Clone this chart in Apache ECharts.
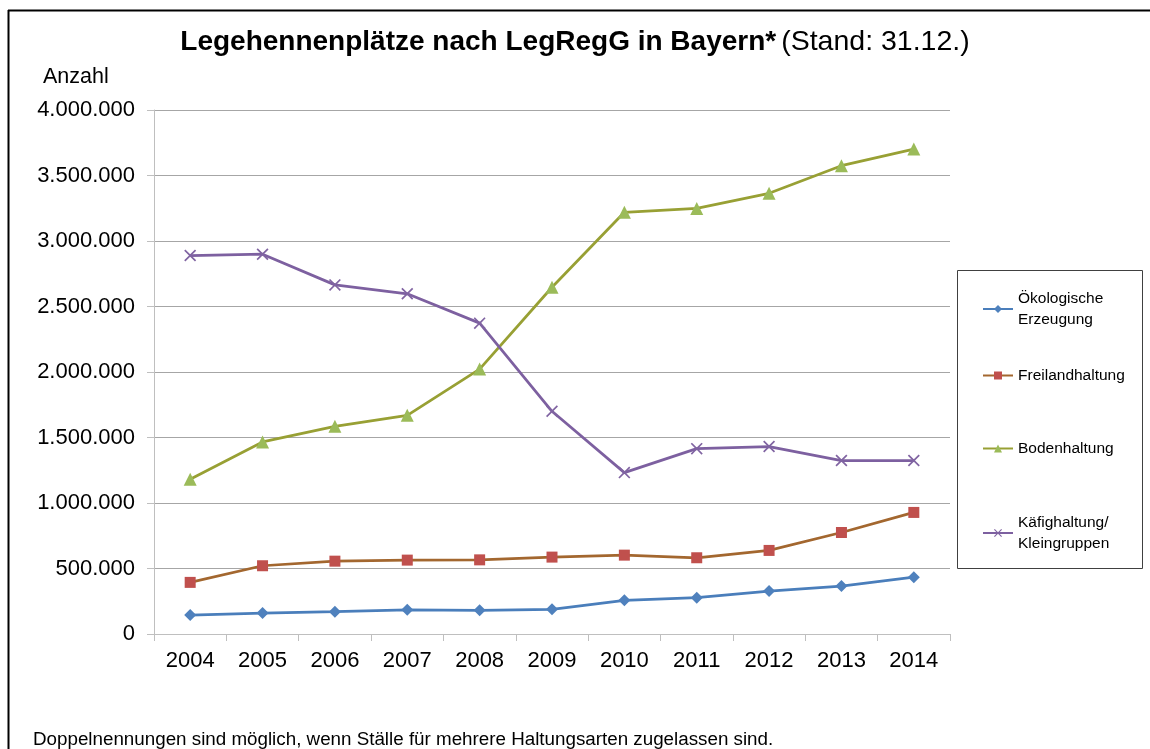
<!DOCTYPE html>
<html><head><meta charset="utf-8">
<script src="https://cdn.jsdelivr.net/npm/echarts@6/dist/echarts.min.js"></script>
<style>html,body{margin:0;padding:0;background:#fff}#c{width:1150px;height:749px}</style>
</head><body><div id="c"></div>
<script>
const years = ['2004','2005','2006','2007','2008','2009','2010','2011','2012','2013','2014'];
const oeko = [145000,160000,170000,185000,181000,188000,257000,277000,328000,366000,434000];
const frei = [394000,521000,556000,564000,566000,587000,602000,582000,638000,775000,928000];
const boden = [1181000,1466000,1585000,1669000,2022000,2647000,3219000,3249000,3364000,3575000,3702000];
const kaefig = [2889000,2899000,2665000,2597000,2373000,1700000,1232000,1415000,1431000,1324000,1324000];
const names = ['Ökologische\nErzeugung','Freilandhaltung','Bodenhaltung','Käfighaltung/\nKleingruppen'];

const fmt = v => String(v).replace(/\B(?=(\d{3})+(?!\d))/g, '.');
const xPath = 'path://M0,1L1,0L5,4L9,0L10,1L6,5L10,9L9,10L5,6L1,10L0,9L4,5Z';
const font = 'Liberation Sans, Arial, sans-serif';

const chart = echarts.init(document.getElementById('c'), null, {renderer:'canvas'});
const legendBase = {orient:'vertical', left:982, padding:0, itemWidth:30, itemHeight:10,
  textStyle:{fontFamily:font, fontSize:15.5, color:'#000', lineHeight:21}};
chart.setOption({
  animation:false,
  textStyle:{fontFamily:font},
  graphic:[
    {type:'line', shape:{x1:8, y1:10.5, x2:1150, y2:10.5}, style:{stroke:'#000', lineWidth:2}},
    {type:'line', shape:{x1:8.5, y1:10, x2:8.5, y2:749}, style:{stroke:'#000', lineWidth:2}},
    {type:'rect', shape:{x:957.5, y:270.5, width:185, height:298}, style:{fill:'#fff', stroke:'#404040', lineWidth:1}, z:0},
    {type:'text', left:43, top:66, style:{text:'Anzahl', font:'21.5px '+font, fill:'#000'}},
    {type:'text', left:33, top:730, style:{text:'Doppelnennungen sind möglich, wenn Ställe für mehrere Haltungsarten zugelassen sind.', font:'18.8px '+font, fill:'#000'}}
  ],
  title:{
    text:'{b|Legehennenplätze nach LegRegG in Bayern*} {n|(Stand: 31.12.)}',
    left:'center', top:23,
    textStyle:{rich:{
      b:{fontFamily:font, fontSize:28, fontWeight:'bold', color:'#000'},
      n:{fontFamily:font, fontSize:28.5, fontWeight:'normal', color:'#000'}
    }}
  },
  legend:[
    Object.assign({top:288, data:[names[0]]}, legendBase),
    Object.assign({top:365, data:[names[1]]}, legendBase),
    Object.assign({top:438, data:[names[2]]}, legendBase),
    Object.assign({top:512, data:[names[3]]}, legendBase)
  ],
  grid:{left:154, right:200, top:110, bottom:115, containLabel:false},
  xAxis:{
    type:'category', data:years, boundaryGap:true,
    axisLine:{lineStyle:{color:'#BFBFBF', width:1}},
    axisTick:{show:true, length:7, lineStyle:{color:'#BFBFBF'}},
    axisLabel:{fontFamily:font, fontSize:22, color:'#000', margin:16}
  },
  yAxis:{
    type:'value', min:0, max:4000000, interval:500000,
    axisLine:{show:true, lineStyle:{color:'#BFBFBF'}},
    axisTick:{show:true, length:7, inside:false, lineStyle:{color:'#BFBFBF'}},
    splitLine:{lineStyle:{color:'#A6A6A6', width:1}},
    axisLabel:{fontFamily:font, fontSize:22, color:'#000', margin:19, formatter:fmt}
  },
  series:[
    {name:names[0], type:'line', data:oeko, symbol:'diamond', symbolSize:12,
     lineStyle:{color:'#4A7EBB', width:2.75}, itemStyle:{color:'#4F81BD'}},
    {name:names[1], type:'line', data:frei, symbol:'rect', symbolSize:11,
     lineStyle:{color:'#A3672F', width:2.75}, itemStyle:{color:'#C0504D'}},
    {name:names[2], type:'line', data:boden, symbol:'triangle', symbolSize:13,
     lineStyle:{color:'#98A034', width:2.75}, itemStyle:{color:'#9BBB59'}},
    {name:names[3], type:'line', data:kaefig, symbol:xPath, symbolSize:12,
     lineStyle:{color:'#7D60A0', width:2.75}, itemStyle:{color:'#8064A2'}}
  ]
});
</script>
</body></html>
